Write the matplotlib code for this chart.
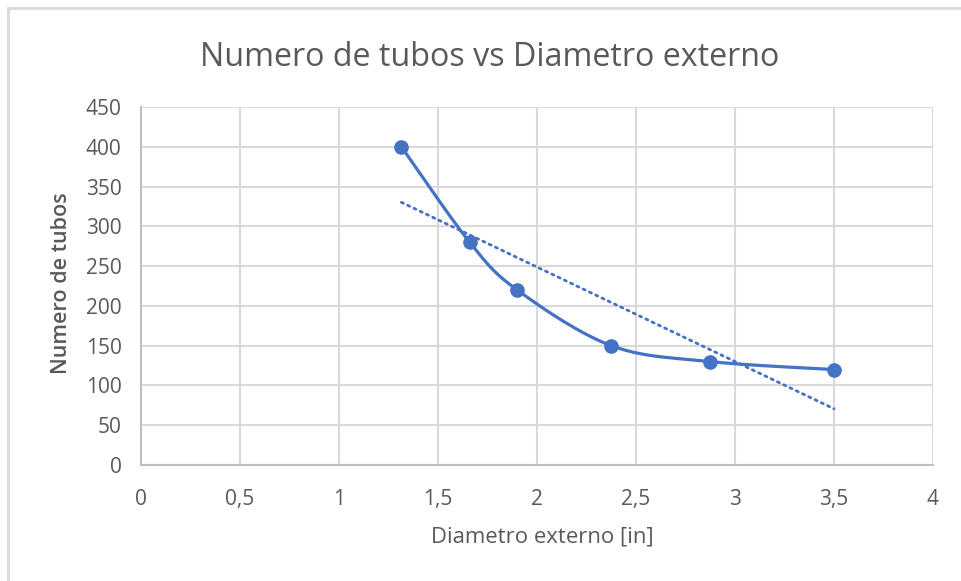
import numpy as np
import matplotlib
matplotlib.use("Agg")
import matplotlib.pyplot as plt
from matplotlib.patches import Rectangle
from matplotlib.ticker import FuncFormatter

# Outer diameters [in] and tube counts
diametro = [1.315, 1.66, 1.9, 2.375, 2.875, 3.5]
tubos = [400, 280, 220, 150, 130, 120]

x_ticks = [0, 0.5, 1, 1.5, 2, 2.5, 3, 3.5, 4]
y_ticks = [0, 50, 100, 150, 200, 250, 300, 350, 400, 450]

titulo = "Numero de tubos vs Diametro externo"
xlabel = "Diametro externo [in]"
ylabel = "Numero de tubos"

AZUL = "#4472C4"
TEXTO = "#595959"
GRID = "#D9D9D9"
EJE = "#BFBFBF"

plt.rcParams["font.family"] = ["Open Sans", "DejaVu Sans"]

W, H = 962, 581
fig = plt.figure(figsize=(W / 100, H / 100), dpi=100)
fig.patch.set_facecolor("white")

# chart frame (top and left edges visible)
fig.add_artist(Rectangle((8 / W, -0.1), 1.2, 1 - 8 / H + 0.1, transform=fig.transFigure,
                         fill=False, edgecolor="#D9D9D9", linewidth=2))

left, right, top, bottom = 141, 933, 107, 465
ax = fig.add_axes([left / W, 1 - bottom / H, (right - left) / W, (bottom - top) / H])
ax.set_xlim(0, 4)
ax.set_ylim(0, 450)
ax.set_xticks(x_ticks)
ax.set_yticks(y_ticks)
fmt = FuncFormatter(lambda v, p: ("%g" % v).replace(".", ","))
ax.xaxis.set_major_formatter(fmt)
ax.yaxis.set_major_formatter(fmt)
ax.grid(True, color=GRID, linewidth=1.5)
ax.set_axisbelow(True)
for s in ["top", "right"]:
    ax.spines[s].set_visible(False)
for s in ["left", "bottom"]:
    ax.spines[s].set_color(EJE)
    ax.spines[s].set_linewidth(1.5)
ax.tick_params(length=0, labelsize=15, colors=TEXTO, pad=14)
ax.tick_params(axis="x", pad=17)

# smoothed curve through the points (Catmull-Rom style Bezier, in screen space)
sx = (right - left) / 4.0
sy = (bottom - top) / 450.0
P = np.column_stack([np.array(diametro) * sx, np.array(tubos) * sy])
Pext = np.vstack([P[0], P, P[-1]])
curve = []
t = np.linspace(0, 1, 40)[:, None]
for i in range(len(P) - 1):
    p0, p1, p2, p3 = Pext[i], Pext[i + 1], Pext[i + 2], Pext[i + 3]
    c1 = p1 + (p2 - p0) / 6.0
    c2 = p2 - (p3 - p1) / 6.0
    seg = ((1 - t) ** 3) * p1 + 3 * ((1 - t) ** 2) * t * c1 + 3 * (1 - t) * t ** 2 * c2 + t ** 3 * p2
    curve.append(seg if i == 0 else seg[1:])
curve = np.vstack(curve)
ax.plot(curve[:, 0] / sx, curve[:, 1] / sy, color=AZUL, linewidth=2.3, solid_capstyle="round", zorder=3)
ax.plot(diametro, tubos, linestyle="none", marker="o", markersize=9.5, color=AZUL, zorder=4)

# linear trend line
m, b = np.polyfit(diametro, tubos, 1)
xt = np.array([min(diametro), max(diametro)])
ax.plot(xt, m * xt + b, color=AZUL, linewidth=2.0, dashes=(0.8, 1.7), dash_capstyle="round", zorder=3)

fig.text(490 / W, 1 - 57 / H, titulo, ha="center", va="center", fontsize=23.2, color=TEXTO)
fig.text(542 / W, 1 - 537 / H, xlabel, ha="center", va="center", fontsize=15.9, color=TEXTO)
fig.text(62 / W, 1 - 283 / H, ylabel, ha="center", va="center", rotation=90, fontsize=15.5,
         fontweight="semibold", color=TEXTO)

fig.savefig("out.png", dpi=100)
